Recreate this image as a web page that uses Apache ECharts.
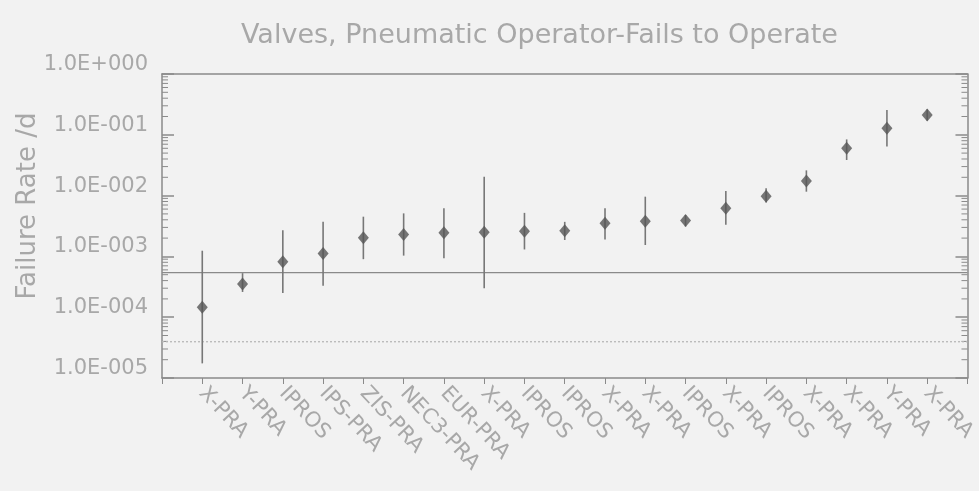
<!DOCTYPE html>
<html><head><meta charset="utf-8">
<script src="https://cdn.jsdelivr.net/npm/echarts@6/dist/echarts.min.js"></script>
<style>html,body{margin:0;padding:0;background:#f2f2f2}#c{width:979px;height:491px}</style>
</head><body><div id="c"></div>
<script>
const categories = ['X-PRA','Y-PRA','IPROS','IPS-PRA','ZIS-PRA','NEC3-PRA','EUR-PRA','X-PRA','IPROS','IPROS','X-PRA','X-PRA','IPROS','X-PRA','IPROS','X-PRA','X-PRA','Y-PRA','X-PRA'];
const meanValues  = [1.46e-4,3.5e-4,8.2e-4,1.12e-3,2.03e-3,2.3e-3,2.45e-3,2.5e-3,2.6e-3,2.65e-3,3.5e-3,3.8e-3,3.9e-3,6.2e-3,9.8e-3,1.74e-2,6.0e-2,0.128,0.212];
const upperValues = [1.24e-3,5.3e-4,2.7e-3,3.7e-3,4.5e-3,5.1e-3,6.2e-3,2.05e-2,5.2e-3,3.7e-3,6.2e-3,9.6e-3,4.8e-3,1.19e-2,1.32e-2,2.6e-2,8.4e-2,0.256,0.262];
const lowerValues = [1.74e-5,2.6e-4,2.5e-4,3.3e-4,9.0e-4,1.03e-3,9.3e-4,3.0e-4,1.3e-3,1.86e-3,1.9e-3,1.54e-3,3.1e-3,3.3e-3,7.7e-3,1.16e-2,3.85e-2,0.064,0.171];
const solidRefLine = 5.4e-4;
const dottedRefLine = 3.95e-5;
const yTickLabels = ['1.0E-005','1.0E-004','1.0E-003','1.0E-002','1.0E-001','1.0E+000'];
const minorFactors = [2,3,4,5,6,7,8,9];
const decades = [1e-5,1e-4,1e-3,1e-2,1e-1];

const axisData = [''].concat(categories, ['']);
const lastIdx = axisData.length - 1;
const minorTicks = [];
decades.forEach(d => minorFactors.forEach(f => minorTicks.push([f * d])));

const textColor = '#a8a8a8';
const lineColor = '#8a8a8a';
const font = 'DejaVu Sans';

const chart = echarts.init(document.getElementById('c'));
chart.setOption({
  backgroundColor: '#f2f2f2',
  animation: false,
  title: {
    text: 'Valves, Pneumatic Operator-Fails to Operate',
    left: 236, top: 17,
    textStyle: {fontFamily: font, fontSize: 27, fontWeight: 'normal', color: textColor}
  },
  graphic: [{
    type: 'text', x: 28, y: 206, rotation: Math.PI / 2,
    style: {text: 'Failure Rate /d', fontFamily: font, fontSize: 26, fill: textColor, align: 'center', verticalAlign: 'middle'}
  }],
  grid: {left: 162, right: 3, top: 74, bottom: 113, containLabel: false},
  xAxis: [{
    type: 'category', data: axisData, boundaryGap: false,
    axisLine: {lineStyle: {color: lineColor, width: 1.5}},
    axisTick: {show: true, length: 6, interval: 0, lineStyle: {color: lineColor}},
    axisLabel: {interval: 0, rotate: -47, margin: 12, fontFamily: font, fontSize: 21, color: textColor},
    splitLine: {show: false}
  }, {
    type: 'category', data: axisData, boundaryGap: false, position: 'top',
    axisLine: {lineStyle: {color: lineColor, width: 1.5}},
    axisTick: {show: false}, axisLabel: {show: false}, splitLine: {show: false}
  }],
  yAxis: [{
    type: 'log', logBase: 10, min: 1e-5, max: 1,
    axisLine: {show: true, lineStyle: {color: lineColor, width: 1.5}},
    axisTick: {show: true, inside: true, length: 12, lineStyle: {color: lineColor, width: 1.5}},
    axisLabel: {
      margin: 14, fontFamily: font, fontSize: 21, color: textColor, verticalAlign: 'bottom', lineHeight: 19,
      formatter: v => yTickLabels[Math.round(Math.log10(v)) + 5]
    },
    splitLine: {show: false}
  }, {
    type: 'log', logBase: 10, min: 1e-5, max: 1, position: 'right',
    axisLine: {show: true, lineStyle: {color: lineColor, width: 1.5}},
    axisTick: {show: true, inside: true, length: 12, lineStyle: {color: lineColor, width: 1.5}},
    axisLabel: {show: false}, splitLine: {show: false}
  }],
  series: [{
    type: 'custom', name: 'minorTicks', silent: true,
    data: minorTicks,
    encode: {y: 0},
    renderItem: (params, api) => {
      const v = api.value(0);
      const l = api.coord([0, v]);
      const r = api.coord([lastIdx, v]);
      const st = {stroke: lineColor, lineWidth: 1};
      return {type: 'group', children: [
        {type: 'line', shape: {x1: l[0], y1: l[1], x2: l[0] + 6, y2: l[1]}, style: st},
        {type: 'line', shape: {x1: r[0], y1: r[1], x2: r[0] - 6, y2: r[1]}, style: st}
      ]};
    },
    z: 1
  }, {
    type: 'custom', name: 'refLines', silent: true,
    data: [[solidRefLine, 0], [dottedRefLine, 1]],
    encode: {y: 0},
    renderItem: (params, api) => {
      const v = api.value(0);
      const dotted = api.value(1) === 1;
      const l = api.coord([0, v]);
      const r = api.coord([lastIdx, v]);
      return {type: 'line', shape: {x1: l[0], y1: l[1], x2: r[0], y2: r[1]},
        style: dotted ? {stroke: '#b8b8b8', lineWidth: 1.3, lineDash: [2, 2]} : {stroke: '#8a8a8a', lineWidth: 1.4}};
    },
    z: 1
  }, {
    type: 'custom', name: 'range', silent: true,
    data: categories.map((c, i) => [i + 1, lowerValues[i], upperValues[i]]),
    encode: {x: 0, y: [1, 2]},
    renderItem: (params, api) => {
      const x = api.value(0);
      const p1 = api.coord([x, api.value(1)]);
      const p2 = api.coord([x, api.value(2)]);
      return {type: 'line', shape: {x1: p1[0], y1: p1[1], x2: p2[0], y2: p2[1]},
        style: {stroke: '#777777', lineWidth: 1.6}};
    },
    z: 2
  }, {
    type: 'scatter', name: 'mean',
    data: categories.map((c, i) => [i + 1, meanValues[i]]),
    symbol: 'diamond', symbolSize: [11, 13],
    itemStyle: {color: '#555555'},
    z: 3
  }]
});
</script></body></html>
